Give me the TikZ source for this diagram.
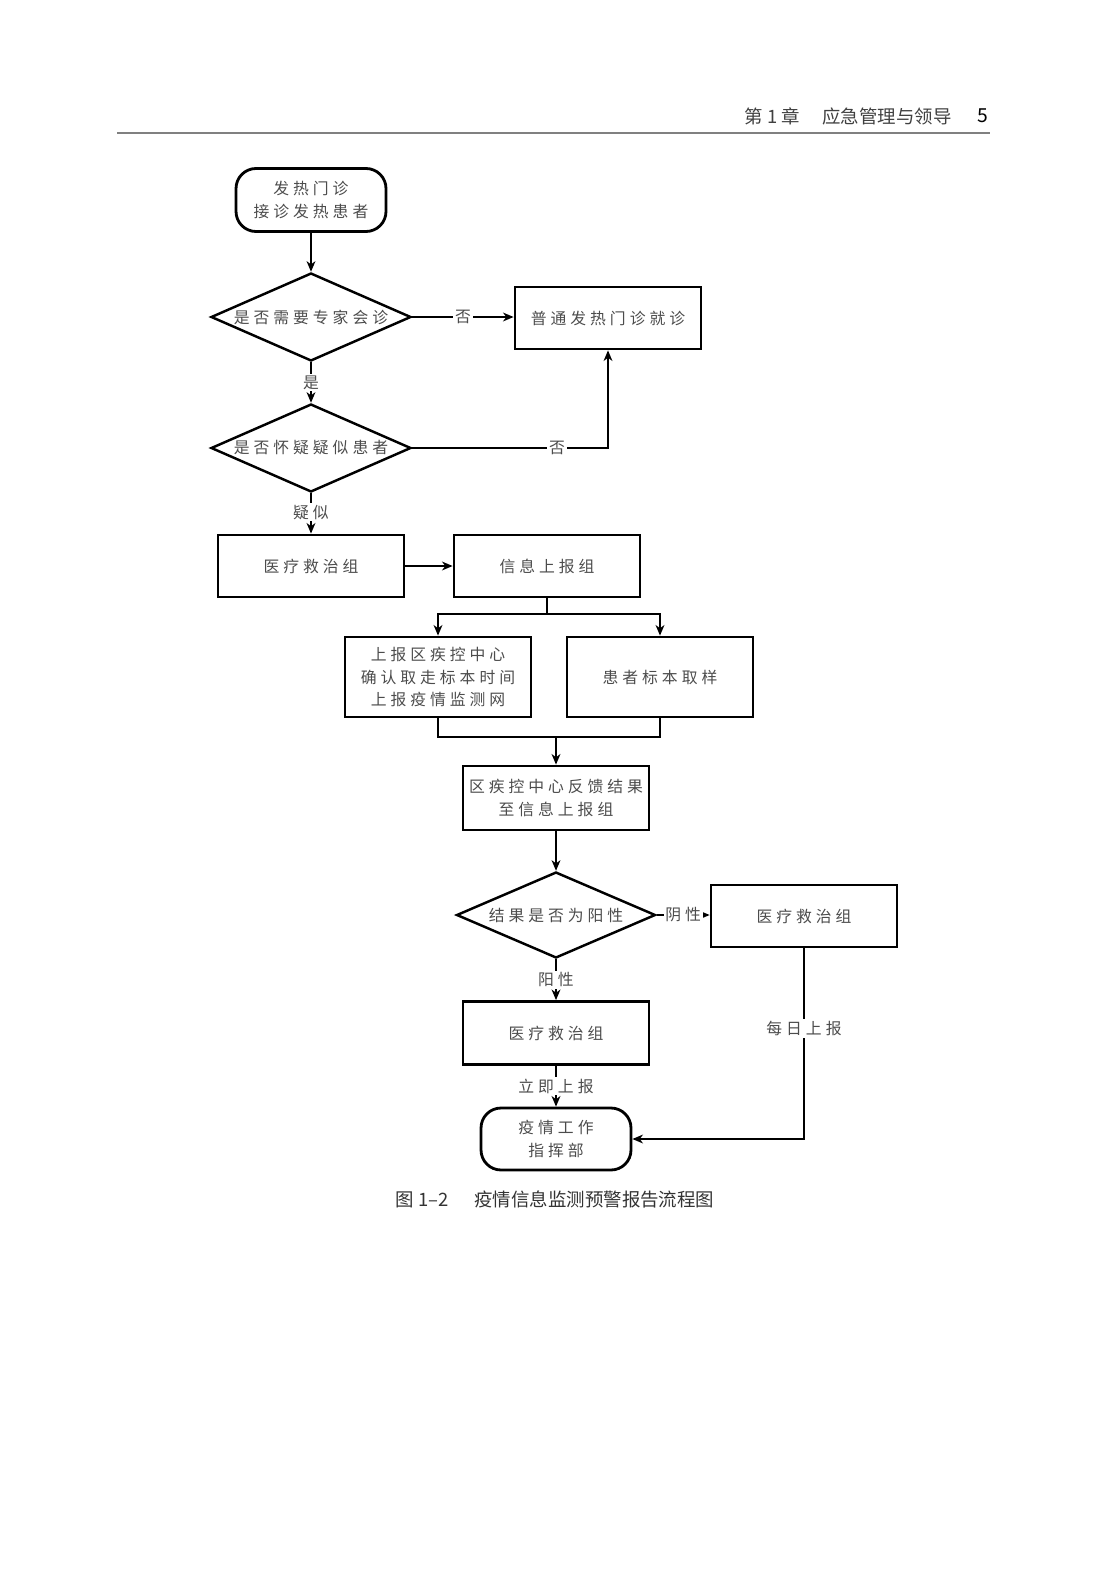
\documentclass[tikz,border=0pt]{standalone}
\usepackage{fontspec}
\setmainfont{Noto Sans CJK SC}
\newfontfamily\boxfont[LetterSpace=25]{Noto Sans CJK SC}
\usetikzlibrary{shapes.geometric,arrows.meta}

\begin{document}
\begin{tikzpicture}[x=0.02cm,y=-0.02cm,>={Stealth[length=6pt,width=5pt,inset=1.8pt]},
    font=\boxfont\fontsize{9}{13}\selectfont,
    box/.style={draw=black,line width=1.6pt,text=black!70,align=center,
        inner sep=0pt,minimum width=3.72cm,minimum height=1.24cm},
    endbox/.style={box,rounded corners=0.4cm,minimum width=3.0cm},
    decide/.style={diamond,draw=black,line width=1.4pt,text=black!70,
        inner sep=0pt,shape aspect=2.25,minimum width=4cm,minimum height=1.76cm},
    lbl/.style={fill=white,text=black!70,inner sep=1pt},
    link/.style={line width=1pt}]
    \useasboundingbox (0,0) rectangle (1110,1571);

    % Kopfzeile der Seite.
    \node[anchor=east,inner sep=0pt,font=\normalfont\fontsize{10.5}{12}\selectfont,
        text=black!75] (chap) at (952,116) {第 1 章\hspace{1.2em}应急管理与领导};
    \node[font=\normalfont\fontsize{11}{12}\selectfont] (pageno) at (983,116) {5};
    \draw[black!50,line width=1.2pt] (117,133) -- (990,133);

    % Erster Teil: Fieberambulanz.
    \node[endbox,minimum height=1.26cm] (start) at (311,200)
        {发热门诊\\接诊发热患者};
    \node[decide] (q1) at (311,317) {是否需要专家会诊};
    \node[box] (normal) at (608,318) {普通发热门诊就诊};
    \node[decide] (q2) at (311,448) {是否怀疑疑似患者};
    \node[box] (treatA) at (311,566) {医疗救治组};
    \node[box] (report) at (547,566) {信息上报组};

    \draw[link,->] (start) -- (q1);
    \draw[link,->] (q1.east) -- node[lbl]{否} (q1.east -| normal.west);
    \draw[link,->] (q1) -- node[lbl]{是} (q2);
    \draw[link,->] (q2.east) -- node[lbl,pos=0.74]{否} (q2.east -| normal.south)
        -- (normal.south);
    \draw[link,->] (q2) -- node[lbl,pos=0.47]{疑似} (treatA);
    \draw[link,->] (treatA) -- (report);

    % Zweiter Teil: Meldung und Probenahme.
    \node[box,minimum height=1.6cm] (upload) at (438,677)
        {上报区疾控中心\\确认取走标本时间\\上报疫情监测网};
    \node[box,minimum height=1.6cm] (sample) at (660,677) {患者标本取样};
    \node[box,minimum height=1.28cm] (feedback) at (556,798)
        {区疾控中心反馈结果\\至信息上报组};
    \coordinate (split) at (547,614);
    \coordinate (merge) at (556,737);

    \draw[link] (report) -- (split);
    \draw[link,->] (split) -| (upload);
    \draw[link,->] (split) -| (sample);
    \draw[link] (upload.south) |- (merge);
    \draw[link] (sample.south) |- (merge);
    \draw[link,->] (merge) -- (feedback);

    % Dritter Teil: Ergebnis.
    \node[decide,minimum width=3.98cm,minimum height=1.72cm] (q3) at (556,915)
        {结果是否为阳性};
    \node[box] (neg) at (804,916) {医疗救治组};
    \node[box,minimum height=1.26cm] (pos) at (556,1033) {医疗救治组};
    \node[endbox] (hq) at (556,1139) {疫情工作\\指挥部};

    \draw[link,->] (feedback) -- (q3);
    \draw[link,->] (q3.east) -- node[lbl]{阴性} (q3.east -| neg.west);
    \draw[link,->] (q3) -- node[lbl]{阳性} (pos);
    \draw[link,->] (pos) -- node[lbl]{立即上报} (hq);
    \draw[link,->] (neg.south) |- node[lbl,pos=0.21]{每日上报} (hq.east);

    \node[font=\normalfont\fontsize{10.5}{12}\selectfont,text=black!80] (caption)
        at (555,1199) {图 1–2\hspace{1.4em}疫情信息监测预警报告流程图};
\end{tikzpicture}
\end{document}
